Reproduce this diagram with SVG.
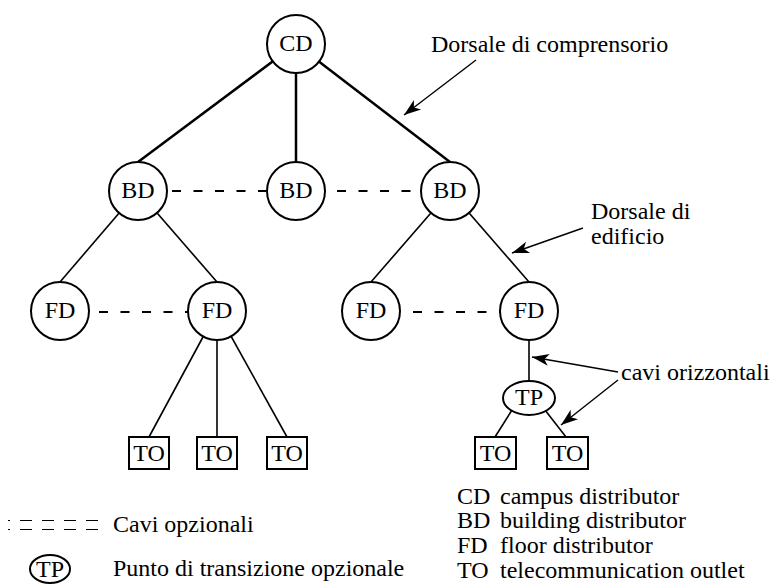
<svg xmlns="http://www.w3.org/2000/svg" width="774" height="587" viewBox="0 0 774 587" font-family="Liberation Serif, Times New Roman, serif" font-size="24">
<style>
text{font-family:'Liberation Serif','Times New Roman',serif;font-size:24px;fill:#000}
.c{text-anchor:middle}
.node{fill:#fff;stroke:#000;stroke-width:2}
.thick{stroke:#000;stroke-width:2.5;fill:none}
.thin{stroke:#000;stroke-width:1.6;fill:none}
.dash{stroke:#000;stroke-width:2;fill:none;stroke-dasharray:9 12.5}
.arr{stroke:#000;stroke-width:1.4;fill:none;marker-end:url(#ah)}
</style>
<defs>
<marker id="ah" markerUnits="userSpaceOnUse" markerWidth="24" markerHeight="16" viewBox="-18 -8 20 16" refX="0" refY="0" orient="auto">
<path d="M0,0 L-17,-6 L-12.5,0 L-17,6 z" fill="#000"/>
</marker>
</defs>
<g id="connectors">
<line class="thick" x1="296" y1="44" x2="138" y2="162"/>
<line class="thick" x1="296" y1="44" x2="296" y2="162"/>
<line class="thick" x1="296" y1="44" x2="450" y2="162"/>
<line class="thin" x1="138" y1="191" x2="60" y2="282"/>
<line class="thin" x1="138" y1="191" x2="217" y2="282"/>
<line class="thin" x1="450" y1="191" x2="371" y2="282"/>
<line class="thin" x1="450" y1="191" x2="529" y2="282"/>
<line class="thin" x1="217" y1="311" x2="149" y2="437"/>
<line class="thin" x1="217" y1="311" x2="217" y2="437"/>
<line class="thin" x1="217" y1="311" x2="287" y2="437"/>
<line class="thin" x1="529" y1="311" x2="529" y2="382"/>
<line class="thin" x1="512" y1="410" x2="495" y2="437"/>
<line class="thin" x1="545" y1="410" x2="566" y2="437"/>
<line class="dash" x1="172" y1="191" x2="266" y2="191"/>
<line class="dash" x1="337" y1="191" x2="421" y2="191"/>
<line class="dash" x1="99" y1="312" x2="188" y2="312"/>
<line class="dash" x1="413" y1="312" x2="500" y2="312"/>
<line class="arr" x1="476" y1="60" x2="404" y2="115"/>
<line class="arr" x1="583" y1="228" x2="512" y2="253"/>
<line class="arr" x1="618" y1="372" x2="532" y2="357"/>
<line class="arr" x1="618" y1="380" x2="561" y2="425"/>
</g>
<g id="CD"><circle class="node" cx="296" cy="44" r="29"/><text class="c" x="296" y="51">CD</text></g>
<g id="BD1"><circle class="node" cx="138" cy="191" r="29"/><text class="c" x="138" y="198">BD</text></g>
<g id="BD2"><circle class="node" cx="296" cy="191" r="29"/><text class="c" x="296" y="198">BD</text></g>
<g id="BD3"><circle class="node" cx="450" cy="191" r="29"/><text class="c" x="450" y="198">BD</text></g>
<g id="FD1"><circle class="node" cx="60" cy="311" r="29"/><text class="c" x="60" y="318">FD</text></g>
<g id="FD2"><circle class="node" cx="217" cy="311" r="29"/><text class="c" x="217" y="318">FD</text></g>
<g id="FD3"><circle class="node" cx="371" cy="311" r="29"/><text class="c" x="371" y="318">FD</text></g>
<g id="FD4"><circle class="node" cx="529" cy="311" r="29"/><text class="c" x="529" y="318">FD</text></g>
<g id="TP"><ellipse class="node" cx="529" cy="398" rx="26" ry="17"/><text class="c" x="529" y="405">TP</text></g>
<g id="TO1"><rect class="node" x="129" y="437" width="40" height="32"/><text class="c" x="149" y="461">TO</text></g>
<g id="TO2"><rect class="node" x="197" y="437" width="40" height="32"/><text class="c" x="217" y="461">TO</text></g>
<g id="TO3"><rect class="node" x="267" y="437" width="40" height="32"/><text class="c" x="287" y="461">TO</text></g>
<g id="TO4"><rect class="node" x="475" y="437" width="41" height="32"/><text class="c" x="495.5" y="461">TO</text></g>
<g id="TO5"><rect class="node" x="547" y="437" width="41" height="32"/><text class="c" x="567.5" y="461">TO</text></g>
<g id="labels">
<text x="431" y="52">Dorsale di comprensorio</text>
<text x="591" y="219">Dorsale di</text>
<text x="591" y="244">edificio</text>
<text x="621" y="380">cavi orizzontali</text>
</g>
<g id="legend">
<line x1="8" y1="520.5" x2="100" y2="520.5" stroke="#000" stroke-width="1" stroke-dasharray="2 10 10 0 0 0" />
<line x1="8" y1="529.5" x2="100" y2="529.5" stroke="#000" stroke-width="1" stroke-dasharray="2 10 10 0 0 0" />
<text x="113" y="532">Cavi opzionali</text>
<ellipse cx="50" cy="569" rx="20" ry="14" fill="#fff" stroke="#000" stroke-width="2"/>
<text class="c" x="50" y="577">TP</text>
<text x="113" y="576">Punto di transizione opzionale</text>
<text x="457" y="504">CD</text><text x="500" y="504">campus distributor</text>
<text x="457" y="528">BD</text><text x="500" y="528">building distributor</text>
<text x="457" y="553">FD</text><text x="500" y="553">floor distributor</text>
<text x="457" y="578">TO</text><text x="500" y="578">telecommunication outlet</text>
</g>
</svg>
